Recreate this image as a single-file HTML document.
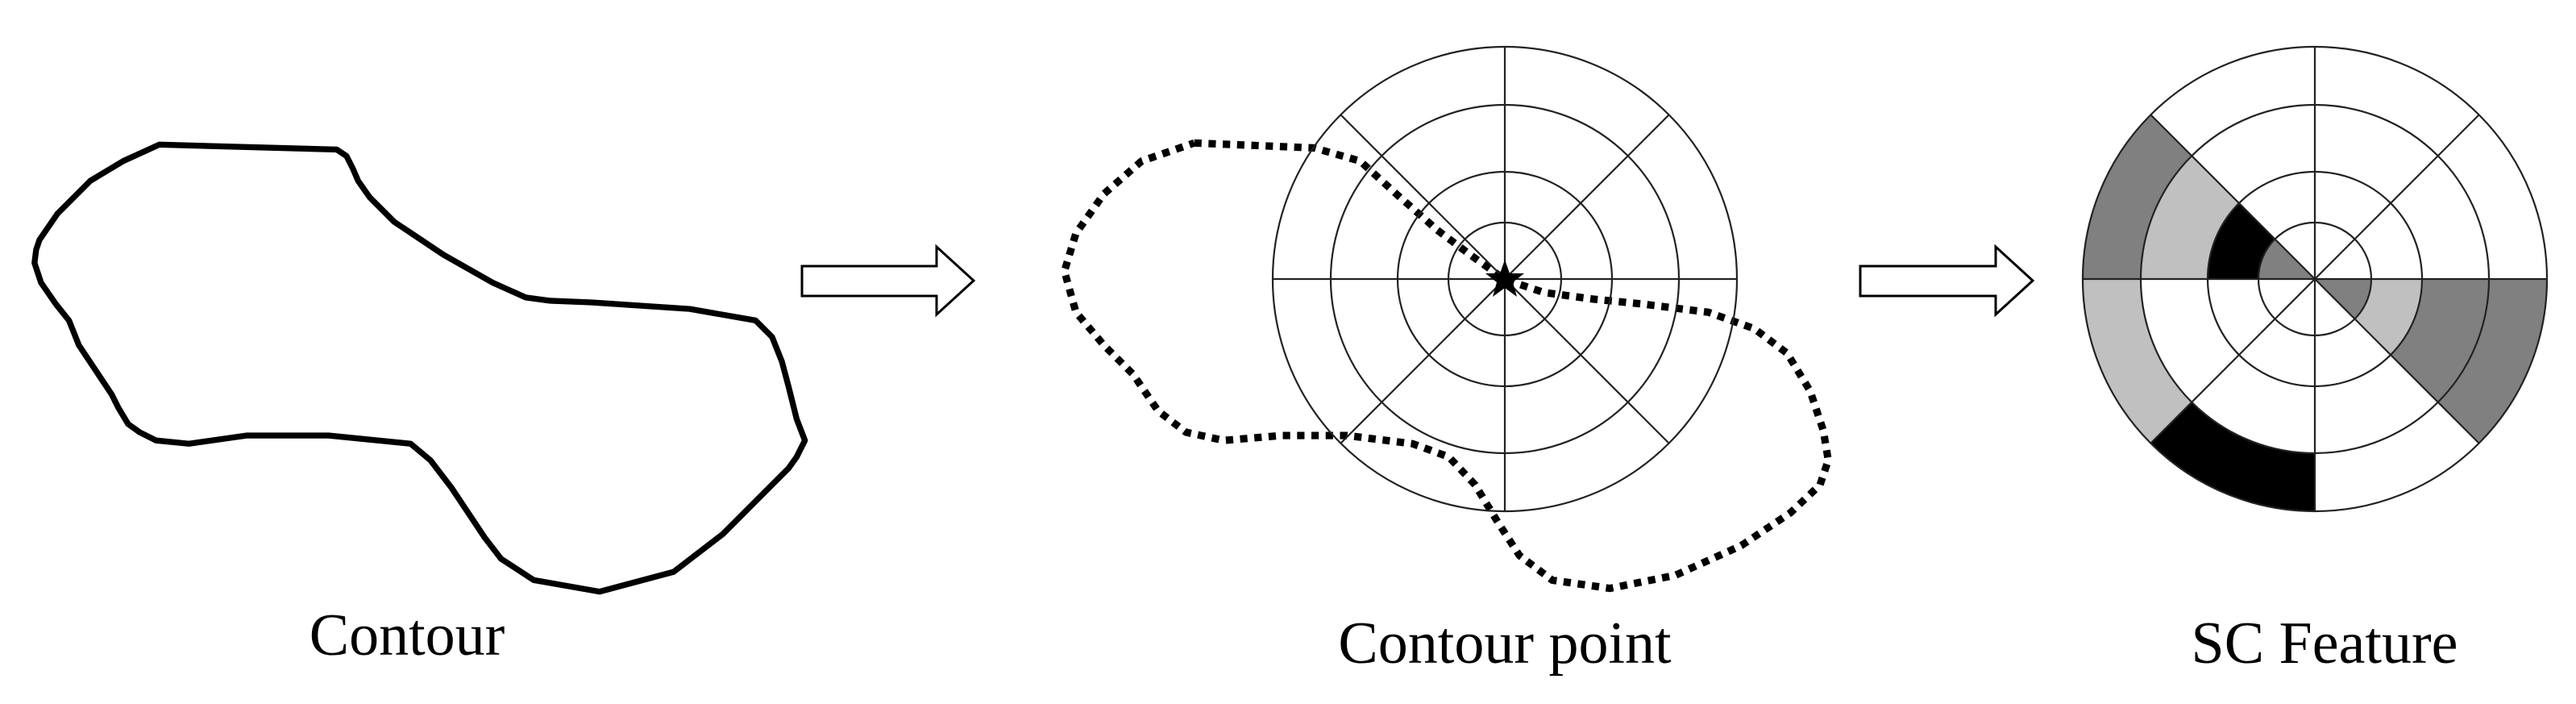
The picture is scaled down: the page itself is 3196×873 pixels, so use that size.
<!DOCTYPE html>
<html><head><meta charset="utf-8"><style>
html,body{margin:0;padding:0;background:#fff;}
svg{display:block;}
text{font-family:"Liberation Serif",serif;fill:#000;}
</style></head><body>
<svg width="3196" height="873" viewBox="0 0 3196 873" xmlns="http://www.w3.org/2000/svg">
<rect width="3196" height="873" fill="#fff"/>
<g transform="scale(2.038)" fill="none" stroke="#000" stroke-linejoin="round" stroke-linecap="round">
<polyline stroke-width="3.6" points="97,88 205,91 211,95 215,103 218,110 225,120 240,135 270,155 300,172 320,181 335,183 360,184 420,188 460,195 470,205 476,220 480,235 485,255 490,268 485,278 480,285 460,305 440,325 410,348 365,360 325,353 305,340 295,327 285,312 275,297 262,280 250,270 200,265 150,265 115,270 95,268 85,263 78,258 72,248 68,240 58,225 48,210 42,195 34,185 25,172 21,160 22,152 24,146 35,130 55,110 75,98 97,88"/>
<polyline stroke-width="4.5" stroke-dasharray="4.5 4.2" stroke-linecap="butt" points="727,87 800,90 828,98 850,118 875,140 895,155 916,170 940,178 970,182 1000,185 1040,190 1068,200 1088,215 1102,238 1110,262 1113,280 1108,295 1090,312 1060,332 1020,350 980,358 945,353 925,338 912,318 898,295 882,278 860,270 820,265 780,265 745,268 722,263 705,250 690,228 672,210 655,190 648,165 655,142 672,118 695,98 727,87"/>
</g>
<polygon points="995,330 1162,330 1162,306 1208,348 1162,390 1162,367 995,367" fill="#fff" stroke="#000" stroke-width="3"/>
<polygon points="2308,330 2476,330 2476,306 2522,348 2476,390 2476,367 2308,367" fill="#fff" stroke="#000" stroke-width="3"/>
<g fill="none" stroke="#222" stroke-width="2.2">
<circle cx="1867" cy="346" r="70"/><circle cx="1867" cy="346" r="133"/><circle cx="1867" cy="346" r="216"/><circle cx="1867" cy="346" r="288"/>
<line x1="1579" y1="346" x2="2155" y2="346"/><line x1="1867" y1="58" x2="1867" y2="634"/>
<line x1="1663.4" y1="142.4" x2="2070.6" y2="549.6"/><line x1="1663.4" y1="549.6" x2="2070.6" y2="142.4"/>
</g>
<polygon points="1867,322 1873,339 1891,339 1877,350 1882,368 1867,357 1852,368 1857,350 1843,339 1861,339" fill="#000"/>
<g stroke="none">
<path fill="#808080" d="M2872 346 L2802 346 A70 70 0 0 1 2822.5 296.5 Z"/>
<path fill="#000" d="M2739 346 A133 133 0 0 1 2778 252 L2822.5 296.5 A70 70 0 0 0 2802 346 Z"/>
<path fill="#c0c0c0" d="M2656 346 A216 216 0 0 1 2719.3 193.3 L2778 252 A133 133 0 0 0 2739 346 Z"/>
<path fill="#808080" d="M2584 346 A288 288 0 0 1 2668.4 142.4 L2719.3 193.3 A216 216 0 0 0 2656 346 Z"/>
<path fill="#808080" d="M2872 346 L2942 346 A70 70 0 0 1 2921.5 395.5 Z"/>
<path fill="#c0c0c0" d="M3005 346 A133 133 0 0 1 2966 440 L2921.5 395.5 A70 70 0 0 0 2942 346 Z"/>
<path fill="#808080" d="M3160 346 A288 288 0 0 1 3075.6 549.6 L2966 440 A133 133 0 0 0 3005 346 Z"/>
<path fill="#c0c0c0" d="M2584 346 A288 288 0 0 0 2668.4 549.6 L2719.3 498.7 A216 216 0 0 1 2656 346 Z"/>
<path fill="#000" d="M2668.4 549.6 A288 288 0 0 0 2872 634 L2872 562 A216 216 0 0 1 2719.3 498.7 Z"/>
</g>
<g fill="none" stroke="#222" stroke-width="2.2">
<circle cx="2872" cy="346" r="70"/><circle cx="2872" cy="346" r="133"/><circle cx="2872" cy="346" r="216"/><circle cx="2872" cy="346" r="288"/>
<line x1="2584" y1="346" x2="3160" y2="346"/><line x1="2872" y1="58" x2="2872" y2="634"/>
<line x1="2668.4" y1="142.4" x2="3075.6" y2="549.6"/><line x1="2668.4" y1="549.6" x2="3075.6" y2="142.4"/>
</g>
<text x="505" y="812" font-size="74" text-anchor="middle">Contour</text>
<text x="1867" y="822" font-size="74" text-anchor="middle">Contour point</text>
<text x="2884" y="822" font-size="74" text-anchor="middle">SC Feature</text>
</svg>
</body></html>
